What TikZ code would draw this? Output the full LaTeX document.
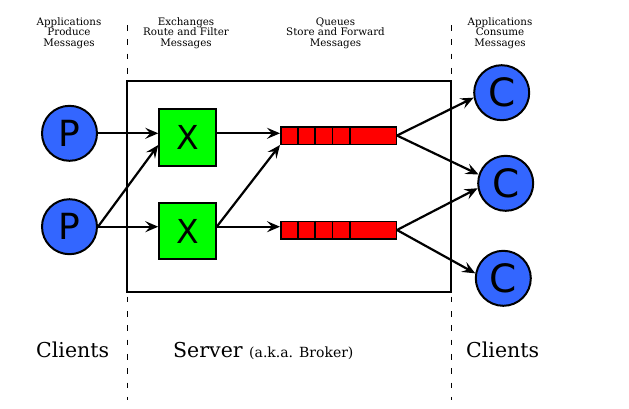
\documentclass[tikz,border=0pt]{standalone}
\usepackage{fontspec}
\setmainfont{DejaVu Serif}
\newfontfamily\letterfont{DejaVu Sans}
\usetikzlibrary{arrows.meta,calc}
\definecolor{cblue}{RGB}{51,102,255}
\definecolor{cgreen}{RGB}{0,255,0}
\definecolor{cred}{RGB}{255,0,0}
\begin{document}
\begin{tikzpicture}[x=1pt,y=-1pt,
  client/.style={circle,draw=black,line width=2pt,fill=cblue,minimum size=55pt,inner sep=0pt},
  pfont/.style={font=\letterfont\fontsize{36}{36}\selectfont},
  cfont/.style={font=\letterfont\fontsize{39}{39}\selectfont},
  exch/.style={rectangle,draw=black,line width=2pt,fill=cgreen,minimum size=56.5pt,inner sep=0pt,font=\letterfont\fontsize{33}{33}\selectfont},
  queue/.style={rectangle,draw=black,line width=1.5pt,fill=cred,minimum width=115.5pt,minimum height=17.5pt,inner sep=0pt},
  toplabel/.style={align=center,inner sep=0pt,font=\fontsize{10.3}{10.4}\selectfont},
  biglabel/.style={anchor=base west,inner sep=0pt,font=\fontsize{20.5}{24}\selectfont},
  arr/.style={-{Stealth[length=13pt,width=11pt,inset=5pt]},line width=2.2pt},
  divider/.style={line width=1.5pt},
  sep/.style={line width=1pt,dash pattern=on 5.7pt off 8.6pt}
]
\useasboundingbox (0,0) rectangle (629,408);

% separators and server box
\draw[sep] (127,25) -- (127,400);
\draw[sep] (451,25) -- (451,400);
\draw[line width=2pt] (127,81) rectangle (451,292);

% top labels
\node[toplabel] (l1) at (69,33) {Applications\\Produce\\Messages};
\node[toplabel] (l2) at (186,33) {Exchanges\\Route and Filter\\Messages};
\node[toplabel] (l3) at (335.5,33) {Queues\\Store and Forward\\Messages};
\node[toplabel] (l4) at (500,33) {Applications\\Consume\\Messages};

% bottom labels
\node[biglabel] (b1) at (36,357) {Clients};
\node[biglabel] (b2) at (173,357) {Server {\fontsize{14}{16}\selectfont (a.k.a. Broker)}};
\node[biglabel] (b3) at (466,357) {Clients};

% producers
\node[client,pfont] (p1) at (69.5,133.3) {P};
\node[client,pfont] (p2) at (69.5,226.7) {P};

% exchanges
\node[exch] (x1) at (187.5,137.5) {X};
\node[exch] (x2) at (187.5,231) {X};

% queues
\node[queue] (q1) at (338.5,135.5) {};
\node[queue] (q2) at (338.5,230) {};
\foreach \q in {q1,q2}{
  \foreach \d in {18,35,52.5,70}{
    \draw[divider] ($(\q.north west)+(\d,0)$) -- ($(\q.south west)+(\d,0)$);
  }
}

% consumers
\node[client,cfont] (c1) at (501.7,92.7) {C};
\node[client,cfont] (c2) at (505.7,183.3) {C};
\node[client,cfont] (c3) at (503.3,278.3) {C};

% connectors
\draw[arr] (p1.east) -- (p1.east -| x1.west);
\draw[arr] (p2.east) -- ($(x1.west)+(0,7.5)$);
\draw[arr] (p2.east) -- (p2.east -| x2.west);
\draw[arr] (p1 -| x1.east) -- (p1 -| q1.west);
\draw[arr] (p2 -| x2.east) -- (q1.south west);
\draw[arr] (p2 -| x2.east) -- (p2 -| q2.west);
\draw[arr] (q1.east) -- (c1.190);
\draw[arr] (q1.east) -- (c2.162);
\draw[arr] (q2.east) -- (c2.190);
\draw[arr] (q2.east) -- (c3.170);
\end{tikzpicture}
\end{document}
